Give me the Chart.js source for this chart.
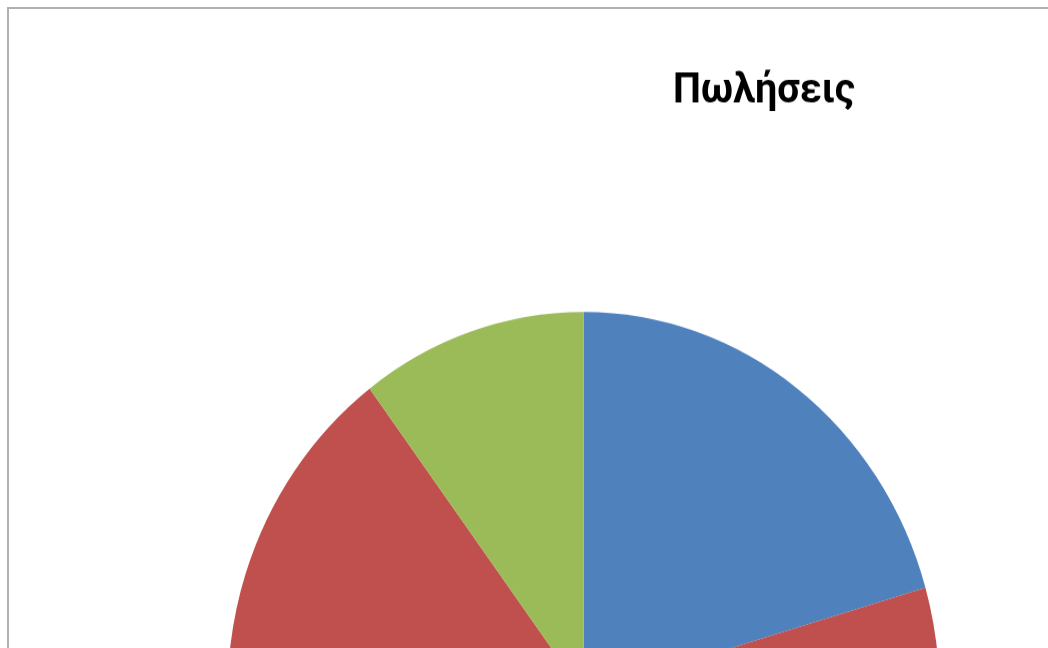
<!DOCTYPE html>
<html>
<head>
<meta charset="utf-8">
<script src="https://cdn.jsdelivr.net/npm/chart.js@4.4.1/dist/chart.umd.min.js"></script>
<style>
  html, body { margin: 0; padding: 0; background: #fff; overflow: hidden; }
  #frame {
    position: absolute; left: 7px; top: 7px; width: 2000px; height: 2000px;
    border-left: 2px solid #b0b0b0; border-top: 2px solid #b0b0b0;
  }
  /* the sheet picture is a little taller than wide, so stretch the chart the same way */
  #wrap {
    position: absolute; left: 8px; top: 8px; width: 1512px; height: 1000px;
    transform: scale(1, 1.073); transform-origin: 0 0;
  }
</style>
</head>
<body>
<div id="frame"></div>
<div id="wrap"><canvas id="chart" width="1512" height="1000"></canvas></div>
<script>
const TITLE  = "Πωλήσεις";
const LABELS = ["1ο τρίμηνο", "2ο τρίμηνο", "3ο τρίμηνο"];
const SALES  = [40, 135, 20];
const COLORS = ["#4F81BD", "#C0504D", "#9BBB59"];

function $(id){ return document.getElementById(id); }

const chart = new Chart($("chart").getContext("2d"), {
  type: "pie",
  data: {
    labels: LABELS,
    datasets: [{ data: SALES, backgroundColor: COLORS, borderWidth: 0, hoverOffset: 0 }]
  },
  options: {
    responsive: false,
    animation: false,
    events: [],
    layout: { padding: { left: 0, right: 0, top: 0, bottom: 4.7 } },
    plugins: {
      title: {
        display: true,
        text: TITLE,
        color: "#000",
        font: { family: "Roboto, sans-serif", size: 39.5, weight: "bold" },
        padding: { top: 54, bottom: 181.9 }
      },
      // legend sits on the right, outside the visible part of the sheet
      legend: {
        position: "right",
        maxWidth: 361,
        labels: { padding: 250, boxWidth: 24, font: { family: "Roboto, sans-serif", size: 24 } }
      },
      tooltip: { enabled: false }
    }
  }
});
</script>
</body>
</html>
